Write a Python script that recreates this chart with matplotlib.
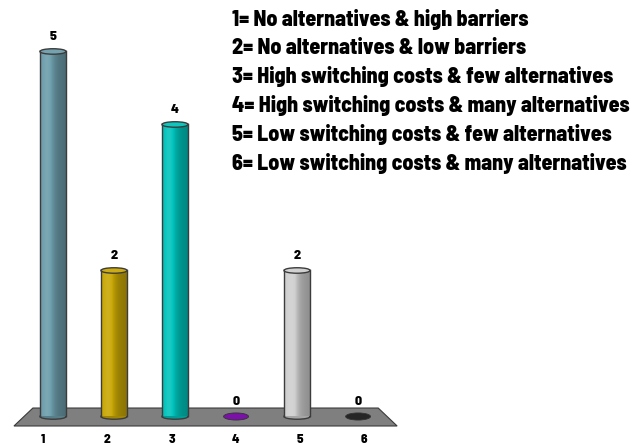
import matplotlib
matplotlib.use('Agg')
import matplotlib.pyplot as plt
import numpy as np
from matplotlib.patches import Ellipse, Polygon, Rectangle
from matplotlib.colors import to_rgb

# data
categories = ['1', '2', '3', '4', '5', '6']
counts = [5, 2, 4, 0, 2, 0]
bar_colors = ['#6d9dab', '#c9a806', '#00c4bc', '#7a12a8', '#cfcfcf', '#262626']
legend_lines = [
    '1= No alternatives & high barriers',
    '2= No alternatives & low barriers',
    '3= High switching costs & few alternatives',
    '4= High switching costs & many alternatives',
    '5= Low switching costs & few alternatives',
    '6= Low switching costs & many alternatives',
]

plt.rcParams['font.family'] = ['Barlow Semi Condensed', 'DejaVu Sans']
plt.rcParams['font.weight'] = 'bold'


def shade(c, f):
    c = np.array(to_rgb(c))
    if f < 1:
        return c * f
    return c + (1 - c) * (f - 1)


fig = plt.figure(figsize=(6.43, 4.48), dpi=100)
ax = fig.add_axes([0, 0, 1, 1])
ax.axis('off')

xlim = (-0.869, 9.67)
ylim = (-0.4315, 5.705)

bw = 0.43    # cylinder width (data units)
eh = 0.075   # ellipse height (data units)
edge = '#3c3c3c'

# floor
floor = Polygon([(-0.33, 0.116), (5.33, 0.116), (5.64, -0.13), (-0.64, -0.13)],
                closed=True, facecolor='#7f7f7f', edgecolor='#3a3a3a', lw=0.8, zorder=1)
ax.add_patch(floor)

t = np.linspace(0, 1, 60)
profile = 0.92 + 0.25 * np.exp(-((t - 0.28) / 0.22) ** 2) - 0.24 * t

for i, (v, col) in enumerate(zip(counts, bar_colors)):
    x0, x1 = i - bw / 2, i + bw / 2
    if v == 0:
        ax.add_patch(Ellipse((i, 0), bw * 0.95, eh * 1.3, facecolor=col,
                             edgecolor='#333333', lw=0.6, zorder=4))
    else:
        ax.add_patch(Ellipse((i, 0), bw, eh, facecolor=shade(col, 0.8),
                             edgecolor=edge, lw=1.0, zorder=2))
        grad = np.array([[shade(col, f) for f in profile]])
        im = ax.imshow(grad, extent=(x0, x1, 0, v), aspect='auto', zorder=3,
                       interpolation='bilinear')
        clip = Rectangle((x0, 0), bw, v, transform=ax.transData)
        im.set_clip_path(clip)
        ax.plot([x0, x0], [0, v], color=edge, lw=1.0, zorder=3.5)
        ax.plot([x1, x1], [0, v], color=edge, lw=1.0, zorder=3.5)
        ax.add_patch(Ellipse((i, v), bw, eh, facecolor=shade(col, 1.05),
                             edgecolor=edge, lw=1.0, zorder=4))
    ax.text(i, v + 0.21, str(v), ha='center', va='center', fontsize=10,
            fontweight='heavy', color='black', zorder=5)

# category labels (shifted slightly for the perspective of the floor)
for i, lab in enumerate(categories):
    ax.text(i * 1.052 - 0.16, -0.32, lab, ha='center', va='center',
            fontsize=9.5, fontweight='heavy', color='black')

ax.set_xlim(*xlim)
ax.set_ylim(*ylim)

for k, line in enumerate(legend_lines):
    fig.text(232 / 643, 1 - (19 + 28.8 * k) / 448, line, ha='left', va='center',
             fontsize=15.7, fontweight='heavy', color='black')

plt.savefig('out.png', dpi=100)
